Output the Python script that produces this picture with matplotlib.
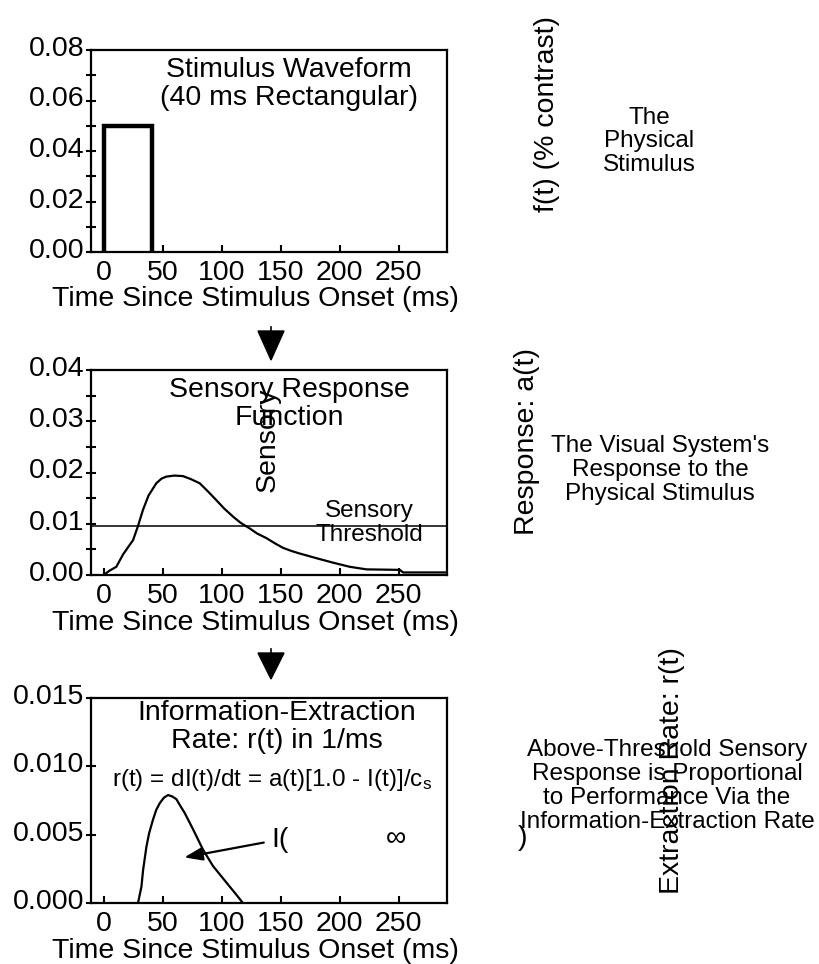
import matplotlib
matplotlib.use("Agg")
import matplotlib.pyplot as plt
from matplotlib.ticker import MultipleLocator, FixedLocator
from matplotlib.transforms import ScaledTranslation

plt.rcParams['font.family'] = ['Liberation Sans', 'DejaVu Sans']
plt.rcParams['mathtext.fontset'] = 'custom'
plt.rcParams['mathtext.rm'] = 'Liberation Sans'
plt.rcParams['mathtext.it'] = 'Liberation Sans'

# stimulus waveform f(t): 40 ms rectangular pulse
stim_t = [0, 0, 41, 41]
stim_f = [0.0, 0.05, 0.05, 0.0]

# sensory response a(t)
resp_t = [0, 5, 10.7, 16.4, 20, 24.9, 29, 33.3, 38, 44.6, 49, 53.1, 60,
          67.2, 74, 81.4, 88, 95.5, 102, 109.6, 116, 123.7, 130, 137.9,
          145, 152, 159, 166, 180, 194.5, 208.6, 222.7, 251, 253.8, 290.6]
resp_a = [0.0, 0.00085, 0.0016, 0.0040, 0.0052, 0.0068, 0.0095, 0.0127,
          0.0155, 0.0179, 0.0188, 0.0192, 0.0194, 0.0193, 0.0187, 0.0179,
          0.0164, 0.0146, 0.0130, 0.0114, 0.0102, 0.0091, 0.0081, 0.0072,
          0.0062, 0.0053, 0.0047, 0.0042, 0.0033, 0.0024, 0.0016, 0.0011,
          0.0010, 0.0005, 0.0005]
threshold = 0.0096

# information-extraction rate r(t)
rate_t = [29.1, 32, 33.4, 36.2, 38.5, 41.8, 44.5, 47.5, 51, 54.5, 58,
          61.6, 65, 68.6, 75.7, 84.2, 92.7, 104, 112.5, 118]
rate_r = [0.0, 0.0012, 0.0024, 0.0041, 0.0051, 0.0061, 0.0068, 0.0073,
          0.0077, 0.0079, 0.0078, 0.0076, 0.0071, 0.0066, 0.0054, 0.0039,
          0.0027, 0.0015, 0.0006, 0.0]

x_ticks = [0, 50, 100, 150, 200, 250]
x_labels = ['0', '50', '100', '150', '200', '250']
y1_ticks = [0.0, 0.02, 0.04, 0.06, 0.08]
y1_labels = ['0.00', '0.02', '0.04', '0.06', '0.08']
y2_ticks = [0.0, 0.01, 0.02, 0.03, 0.04]
y2_labels = ['0.00', '0.01', '0.02', '0.03', '0.04']
y3_ticks = [0.0, 0.005, 0.010, 0.015]
y3_labels = ['0.000', '0.005', '0.010', '0.015']

W, H = 820, 964
BIG = 20.5
SMALL = 17.5
LS = 1.1


def fx(x):
    return x / W


def fy(y):
    return 1 - y / H


def setup(ax, yticks, ylabels, ymax, minor):
    ax.set_xlim(-11, 291)
    ax.set_ylim(0, ymax)
    ax.xaxis.set_major_locator(FixedLocator(x_ticks))
    ax.set_xticklabels(x_labels)
    ax.yaxis.set_major_locator(FixedLocator(yticks))
    ax.set_yticklabels(ylabels)
    if minor:
        ax.yaxis.set_minor_locator(MultipleLocator(minor))
    for s in ax.spines.values():
        s.set_linewidth(1.6)
    ax.tick_params(axis='x', direction='in', length=5, width=1.5,
                   labelsize=BIG, pad=6, top=False)
    ax.tick_params(axis='y', which='both', direction='inout', length=7,
                   width=1.5, labelsize=BIG, pad=1, right=False)
    # labels sit a little above their ticks in the reference
    for lbl in ax.get_yticklabels():
        lbl.set_transform(lbl.get_transform() +
                          ScaledTranslation(0, 0.04, fig.dpi_scale_trans))
    ax.set_xlabel('Time Since Stimulus Onset (ms)', fontsize=BIG, va='center')
    ax.xaxis.set_label_coords(0.461, -0.235)


fig = plt.figure(figsize=(W / 100, H / 100), dpi=100)

ax1 = fig.add_axes([fx(90.7), fy(252), fx(447) - fx(90.7), fy(50) - fy(252)])
ax2 = fig.add_axes([fx(90.7), fy(575), fx(447) - fx(90.7), fy(370) - fy(575)])
ax3 = fig.add_axes([fx(90.7), fy(903), fx(447) - fx(90.7), fy(698) - fy(903)])

# panel 1: physical stimulus
ax1.plot(stim_t, stim_f, color='black', lw=3.2, solid_joinstyle='miter')
setup(ax1, y1_ticks, y1_labels, 0.08, 0.01)
ax1.text(157, 0.0665, 'Stimulus Waveform\n(40 ms Rectangular)', fontsize=BIG,
         ha='center', va='center', linespacing=LS)

# panel 2: sensory response
ax2.plot(resp_t, resp_a, color='black', lw=1.6)
ax2.axhline(threshold, color='black', lw=1.1)
setup(ax2, y2_ticks, y2_labels, 0.04, 0.005)
ax2.text(157.6, 0.0333, 'Sensory Response\nFunction', fontsize=BIG,
         ha='center', va='center', linespacing=LS)
ax2.text(225, 0.0102, 'Sensory\nThreshold', fontsize=SMALL, ha='center',
         va='center', linespacing=LS)
ax2.text(139, 0.0263, 'Sensory', fontsize=BIG, rotation=90, ha='center',
         va='center')

# panel 3: information-extraction rate
ax3.plot(rate_t, rate_r, color='black', lw=1.6)
setup(ax3, y3_ticks, y3_labels, 0.015, None)
ax3.text(146.6, 0.0129, 'Information-Extraction\nRate: r(t) in 1/ms',
         fontsize=BIG, ha='center', va='center', linespacing=LS)
ax3.text(142.7, 0.0090, r'r(t) = dI(t)/dt = a(t)[1.0 - I(t)]/c$_\mathrm{s}$',
         fontsize=SMALL, ha='center', va='center')
ax3.annotate('', xy=(66, 0.0033), xytext=(138, 0.00446),
             arrowprops=dict(arrowstyle='-|>,head_length=1.1,head_width=0.4',
                             color='black', lw=1.6))
ax3.text(142, 0.0046, 'I(', fontsize=BIG, ha='left', va='center')
ax3.text(248, 0.0047, '\u221e', fontsize=BIG, ha='center', va='center')

# down arrows between panels
for y0, y1 in [(327, 360), (649, 679)]:
    fig.add_artist(plt.Line2D([fx(271), fx(271)], [fy(y0), fy(y0 + 6)],
                              color='black', lw=1.2))
    fig.patches.append(plt.Polygon(
        [[fx(258), fy(y0 + 4)], [fx(284), fy(y0 + 4)], [fx(271), fy(y1)]],
        closed=True, color='black', transform=fig.transFigure, figure=fig))

# right-hand labels
fig.text(fx(547.5), fy(113.5), 'f(t) (% contrast)', fontsize=BIG,
         rotation=90, ha='center', va='center')
fig.text(fx(649), fy(141.5), 'The\nPhysical\nStimulus', fontsize=SMALL,
         ha='center', va='center', linespacing=LS)
fig.text(fx(527.5), fy(441.5), 'Response: a(t)', fontsize=BIG,
         rotation=90, ha='center', va='center')
fig.text(fx(660), fy(470), "The Visual System's\nResponse to the\n"
         "Physical Stimulus", fontsize=SMALL, ha='center', va='center',
         linespacing=LS)
fig.text(fx(672), fy(771), 'Extraction Rate: r(t)', fontsize=BIG,
         rotation=90, ha='center', va='center')
fig.text(fx(667), fy(786), 'Above-Threshold Sensory\nResponse is Proportional\n'
         'to Performance Via the\nInformation-Extraction Rate',
         fontsize=SMALL, ha='center', va='center', linespacing=LS)
fig.text(fx(523), fy(838), ')', fontsize=BIG, ha='center', va='center')

fig.savefig('out.png', dpi=100)
